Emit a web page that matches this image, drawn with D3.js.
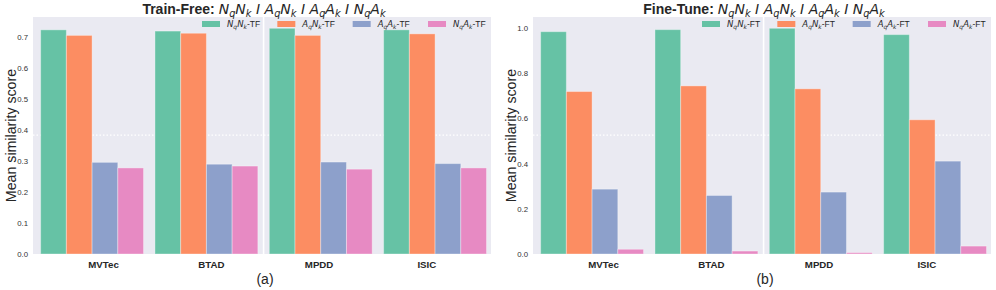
<!DOCTYPE html>
<html>
<head>
<meta charset="utf-8">
<script src="https://cdn.jsdelivr.net/npm/d3@7"></script>
<style>
  body { margin: 0; background: #fff; }
  svg { display: block; }
</style>
</head>
<body>
<div id="chart"></div>
<script>
const categories = ["MVTec", "BTAD", "MPDD", "ISIC"];
const seriesKeys = ["NqNk", "AqNk", "AqAk", "NqAk"];
// subscripted pieces for each series label
const seriesParts = [
    [["N", "q"], ["N", "k"]],
    [["A", "q"], ["N", "k"]],
    [["A", "q"], ["A", "k"]],
    [["N", "q"], ["A", "k"]]
];
const colors = ["#66c2a5", "#fc8d62", "#8da0cb", "#e78ac3"];

// values[series][category]
const trainFreeValues = [
    [0.724, 0.720, 0.729, 0.724],
    [0.706, 0.713, 0.706, 0.711],
    [0.296, 0.290, 0.297, 0.292],
    [0.278, 0.284, 0.274, 0.278]
];
const fineTuneValues = [
    [0.984, 0.993, 0.999, 0.971],
    [0.719, 0.744, 0.731, 0.594],
    [0.287, 0.259, 0.274, 0.411],
    [0.021, 0.013, 0.006, 0.035]
];
const trainFreeTicks = [0, 0.1, 0.2, 0.3, 0.4, 0.5, 0.6, 0.7];
const fineTuneTicks = [0, 0.2, 0.4, 0.6, 0.8, 1.0];
const refLevels = [0.384, 0.526];   // dotted white line in each panel

const panels = [
    { offset: 0, name: "Train-Free", suffix: "TF", values: trainFreeValues, ticks: trainFreeTicks, ref: refLevels[0], tag: "(a)" },
    { offset: 500, name: "Fine-Tune", suffix: "FT", values: fineTuneValues, ticks: fineTuneTicks, ref: refLevels[1], tag: "(b)" }
];

const W = 996, H = 290;
const plot = { left: 33, right: 491, top: 17, bottom: 254 };
const sansFont = "'Liberation Sans', Arial, sans-serif";
const mathFont = "'DejaVu Sans', sans-serif";

const svg = d3.select("#chart").append("svg")
    .attr("width", W)
    .attr("height", H);

// writes N_q N_k style math into a text element; the baseline is restored
// on whichever tspan comes next
function mathSpans(text, parts, size, state) {
    const shift = size * 0.22;
    parts.forEach(([main, sub]) => {
        text.append("tspan")
            .attr("font-family", mathFont)
            .attr("font-style", "italic")
            .attr("font-size", size)
            .attr("dy", state.down ? -shift : 0)
            .text(main);
        text.append("tspan")
            .attr("font-family", mathFont)
            .attr("font-style", "italic")
            .attr("font-size", size * 0.7)
            .attr("dy", shift)
            .text(sub);
        state.down = true;
    });
}

function plainSpan(text, str, size, state, attrs) {
    const s = text.append("tspan")
        .attr("font-size", size)
        .attr("dy", state.down ? -size * 0.22 : 0)
        .text(str);
    Object.entries(attrs).forEach(([k, v]) => s.attr(k, v));
    state.down = false;
    return s;
}

panels.forEach(p => {
    const left = p.offset + plot.left;
    const right = p.offset + plot.right;
    const g = svg.append("g");

    const yMax = d3.max(p.values.flat()) * 1.05;
    const y = d3.scaleLinear().domain([0, yMax]).range([plot.bottom, plot.top]);

    const x0 = d3.scaleBand()
        .domain(categories)
        .range([left, right])
        .paddingInner(0.1)
        .paddingOuter(0.053)
        .align(0.63);
    const x1 = d3.scaleBand()
        .domain(seriesKeys)
        .range([0, x0.bandwidth()]);
    const xLabel = d3.scalePoint()
        .domain(categories)
        .range([left, right])
        .padding(0.625)
        .align(0.52);

    // background
    g.append("rect")
        .attr("x", left)
        .attr("y", plot.top)
        .attr("width", right - left)
        .attr("height", plot.bottom - plot.top)
        .attr("fill", "#eaeaf2");

    // white separator between the two halves
    const sepX = (x0("BTAD") + x0.bandwidth() + x0("MPDD")) / 2;
    g.append("line")
        .attr("x1", sepX).attr("x2", sepX)
        .attr("y1", plot.top).attr("y2", plot.bottom)
        .attr("stroke", "#fff")
        .attr("stroke-width", 1.6);

    g.append("line")
        .attr("x1", left).attr("x2", right)
        .attr("y1", y(p.ref)).attr("y2", y(p.ref))
        .attr("stroke", "#fff")
        .attr("stroke-width", 1.2)
        .attr("stroke-dasharray", "1.5,2");

    // bars
    const rows = [];
    seriesKeys.forEach((k, si) => {
        categories.forEach((c, ci) => {
            rows.push({ key: k, cat: c, value: p.values[si][ci], color: colors[si] });
        });
    });
    g.selectAll("rect.bar")
        .data(rows)
        .enter()
        .append("rect")
        .attr("class", "bar")
        .attr("x", d => x0(d.cat) + x1(d.key))
        .attr("y", d => y(d.value))
        .attr("width", x1.bandwidth())
        .attr("height", d => y(0) - y(d.value))
        .attr("fill", d => d.color)
        .attr("stroke", "#fff")
        .attr("stroke-opacity", 0.35)
        .attr("stroke-width", 1);

    // y axis
    const yAxis = g.append("g")
        .attr("transform", `translate(${left},0)`)
        .call(d3.axisLeft(y).tickValues(p.ticks).tickFormat(d3.format(".1f")).tickSize(0).tickPadding(5));
    yAxis.select(".domain").remove();
    yAxis.selectAll("text")
        .attr("font-family", sansFont)
        .attr("font-size", 7.8)
        .attr("fill", "#333");

    // x axis
    const xAxis = g.append("g")
        .attr("transform", `translate(0,${plot.bottom})`)
        .call(d3.axisBottom(xLabel).tickSize(0).tickPadding(7));
    xAxis.select(".domain").remove();
    xAxis.selectAll("text")
        .attr("font-family", sansFont)
        .attr("font-size", 9.7)
        .attr("font-weight", "bold")
        .attr("fill", "#262626");

    // y label
    g.append("text")
        .attr("transform", `translate(${left - 17},${(plot.top + plot.bottom) / 2}) rotate(-90)`)
        .attr("text-anchor", "middle")
        .attr("font-family", sansFont)
        .attr("font-size", 14.2)
        .attr("fill", "#262626")
        .text("Mean similarity score");

    // title
    const title = g.append("text")
        .attr("x", (left + right) / 2 + 2)
        .attr("y", 13.5)
        .attr("text-anchor", "middle")
        .attr("fill", "#262626")
        .attr("font-size", 14);
    const ts = { down: false };
    plainSpan(title, p.name + ": ", 14, ts, { "font-family": sansFont, "font-weight": "bold" });
    seriesParts.forEach((parts, i) => {
        mathSpans(title, parts, 14, ts);
        if (i < seriesParts.length - 1) {
            plainSpan(title, " I ", 14, ts, { "font-family": mathFont, "font-style": "italic" });
        }
    });

    // legend
    const legX = d3.scalePoint()
        .domain(seriesKeys)
        .range([left + 169, left + 395]);
    seriesKeys.forEach((k, i) => {
        const lx = legX(k);
        g.append("rect")
            .attr("x", lx)
            .attr("y", 21)
            .attr("width", 18)
            .attr("height", 6)
            .attr("fill", colors[i]);
        const t = g.append("text")
            .attr("x", lx + 25)
            .attr("y", 27.3)
            .attr("fill", "#262626")
            .attr("font-size", 8.5);
        const ls = { down: false };
        mathSpans(t, seriesParts[i], 8.5, ls);
        plainSpan(t, "-" + p.suffix, 8.5, ls, { "font-family": sansFont });
    });

    // panel tag
    g.append("text")
        .attr("x", (left + right) / 2 + 3)
        .attr("y", 284)
        .attr("text-anchor", "middle")
        .attr("font-family", sansFont)
        .attr("font-size", 14)
        .attr("fill", "#262626")
        .text(p.tag);
});
</script>
</body>
</html>
